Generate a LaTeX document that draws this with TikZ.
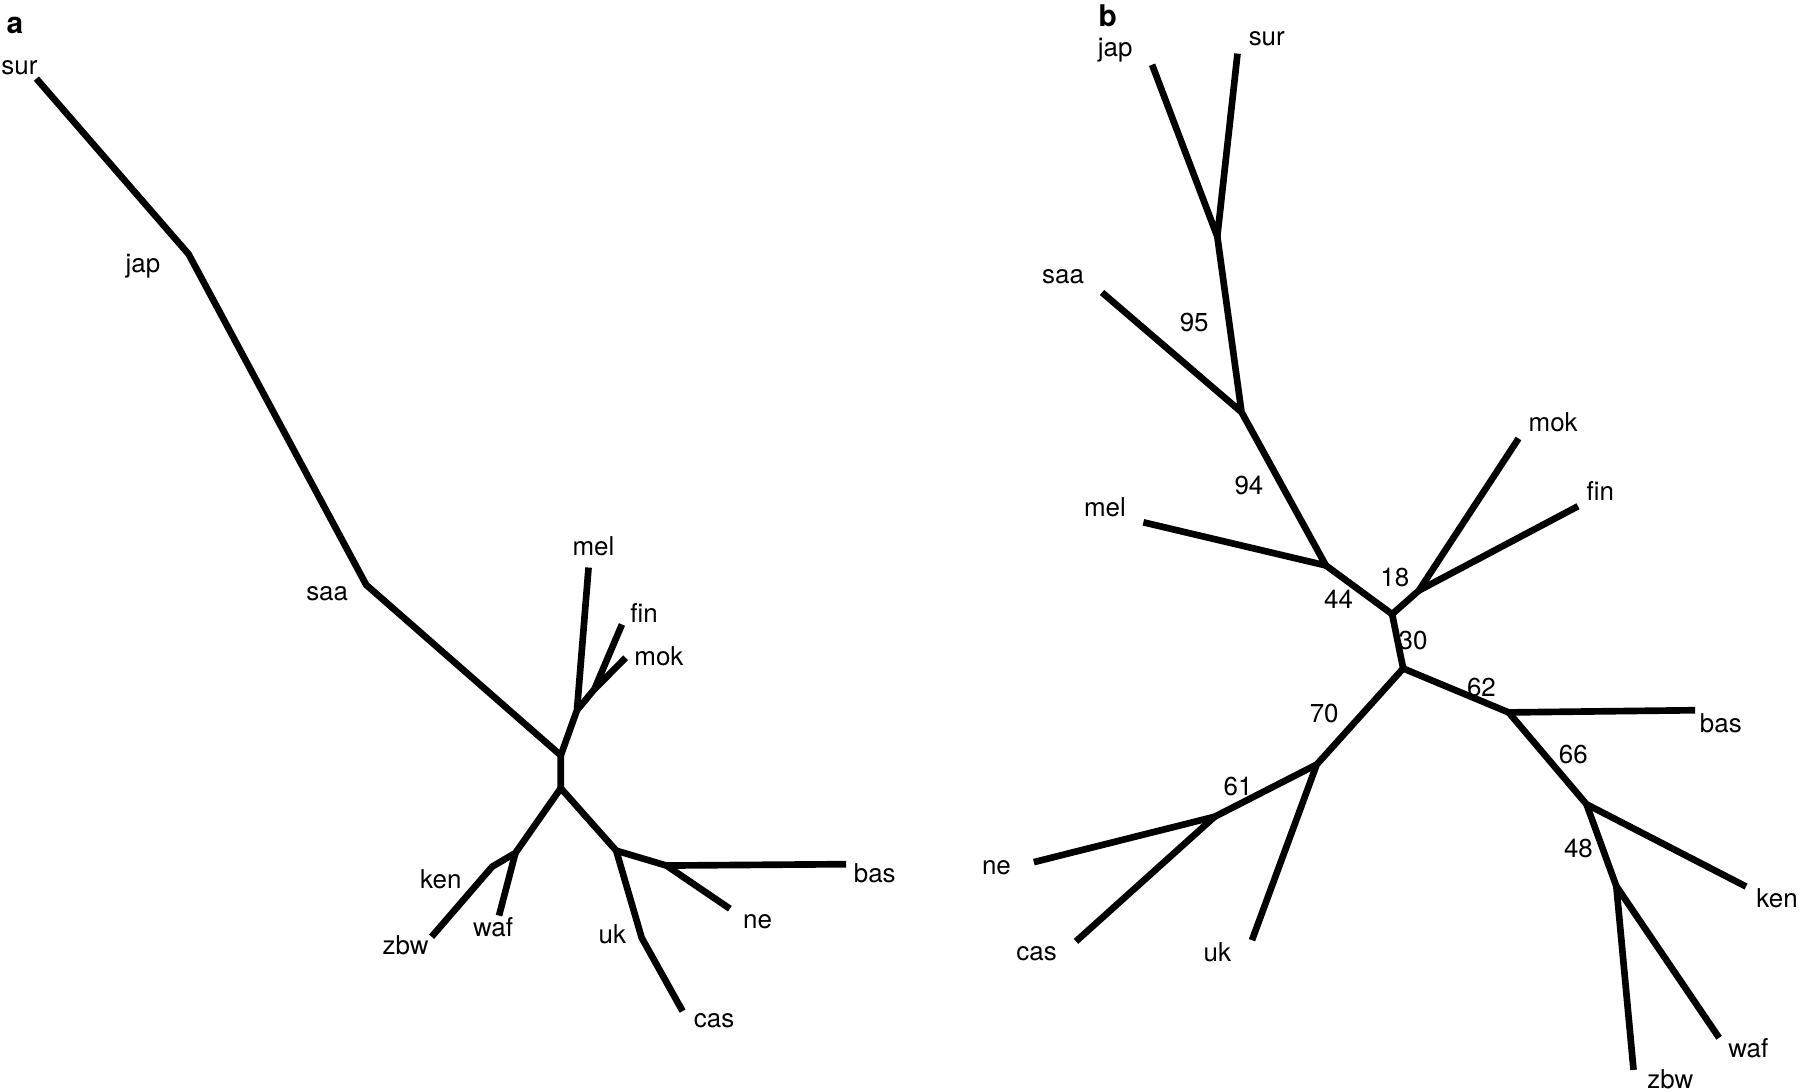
\documentclass[tikz,border=0pt]{standalone}
\usepackage{fontspec}
\setmainfont{TeX Gyre Heros}
\usepackage{tikz}

\begin{document}
\begin{tikzpicture}[x=0.5pt, y=-0.5pt, line join=round,
  branch/.style={line width=2.9pt, black},
  taxon/.style={font=\fontsize{11.3}{13}\selectfont, inner sep=0pt},
  boot/.style={font=\fontsize{11.3}{13}\selectfont, inner sep=0pt},
  panel/.style={font=\fontsize{13}{15}\selectfont\bfseries, inner sep=0pt}]
\useasboundingbox (0,0) rectangle (1568,951);
% panel a
\node[panel] (pa) at (13, 22) {a};
\coordinate (a-sur) at (31.7, 68.5);
\coordinate (a-jap) at (164.3, 221.4);
\coordinate (a-saa) at (319, 509.5);
\coordinate (a-r1) at (488.5, 658);
\coordinate (a-r2) at (488.5, 686.6);
\coordinate (a-melj) at (502.6, 618.7);
\coordinate (a-mel) at (512.7, 494.4);
\coordinate (a-finj) at (517.7, 600.5);
\coordinate (a-fin) at (541.8, 544);
\coordinate (a-mok) at (545, 573);
\coordinate (a-wafj) at (449, 743);
\coordinate (a-ken) at (428.7, 755);
\coordinate (a-zbw) at (376, 816);
\coordinate (a-waf) at (434.7, 797.6);
\coordinate (a-ukj) at (536.8, 741);
\coordinate (a-nej) at (580.5, 754);
\coordinate (a-bas) at (737, 752.8);
\coordinate (a-ne) at (635.8, 791.6);
\coordinate (a-uk) at (559, 817);
\coordinate (a-cas) at (594.6, 880.8);
\draw[branch] (a-sur) -- (a-jap) -- (a-saa) -- (a-r1) -- (a-r2);
\draw[branch] (a-r1) -- (a-melj) -- (a-mel);
\draw[branch] (a-melj) -- (a-finj) -- (a-fin);
\draw[branch] (a-finj) -- (a-mok);
\draw[branch] (a-r2) -- (a-wafj) -- (a-ken) -- (a-zbw);
\draw[branch] (a-wafj) -- (a-waf);
\draw[branch] (a-r2) -- (a-ukj) -- (a-nej) -- (a-bas);
\draw[branch] (a-nej) -- (a-ne);
\draw[branch] (a-ukj) -- (a-uk) -- (a-cas);
\node[taxon] (la-sur) at (17, 58.8) {sur};
\node[taxon] (la-jap) at (124.6, 231.7) {jap};
\node[taxon] (la-saa) at (285, 516.8) {saa};
\node[taxon] (la-mel) at (517, 476) {mel};
\node[taxon] (la-fin) at (561, 533.8) {fin};
\node[taxon] (la-mok) at (574, 571.4) {mok};
\node[taxon] (la-ken) at (384, 766) {ken};
\node[taxon] (la-zbw) at (353.3, 823.8) {zbw};
\node[taxon] (la-waf) at (429.5, 808) {waf};
\node[taxon] (la-uk) at (533.5, 814) {uk};
\node[taxon] (la-ne) at (660, 802.5) {ne};
\node[taxon] (la-bas) at (762, 761) {bas};
\node[taxon] (la-cas) at (622, 889) {cas};
% panel b
\node[panel] (pb) at (965, 13.5) {b};
\coordinate (b-jap) at (1003.6, 56.4);
\coordinate (b-sur) at (1078, 46.7);
\coordinate (b-surj) at (1060.4, 206);
\coordinate (b-saa) at (960, 254.8);
\coordinate (b-saaj) at (1081.5, 359);
\coordinate (b-mel) at (996, 455);
\coordinate (b-melj) at (1155, 492.6);
\coordinate (b-r1) at (1212.7, 535);
\coordinate (b-finj) at (1236, 514.4);
\coordinate (b-mok) at (1322.8, 382);
\coordinate (b-fin) at (1374.6, 441);
\coordinate (b-r2) at (1222.3, 582.3);
\coordinate (b-basj) at (1314.2, 620.6);
\coordinate (b-bas) at (1476.6, 618.7);
\coordinate (b-kenj) at (1382, 700.6);
\coordinate (b-ken) at (1521, 772.3);
\coordinate (b-wafj) at (1408, 772);
\coordinate (b-zbw) at (1423, 932);
\coordinate (b-waf) at (1497.5, 904);
\coordinate (b-ukj) at (1147, 666);
\coordinate (b-uk) at (1090.6, 819);
\coordinate (b-nej) at (1058, 711.5);
\coordinate (b-ne) at (900.6, 751);
\coordinate (b-cas) at (937.3, 820);
\draw[branch] (b-jap) -- (b-surj) -- (b-sur);
\draw[branch] (b-surj) -- (b-saaj) -- (b-saa);
\draw[branch] (b-saaj) -- (b-melj) -- (b-mel);
\draw[branch] (b-melj) -- (b-r1) -- (b-finj) -- (b-mok);
\draw[branch] (b-finj) -- (b-fin);
\draw[branch] (b-r1) -- (b-r2) -- (b-basj) -- (b-bas);
\draw[branch] (b-basj) -- (b-kenj) -- (b-ken);
\draw[branch] (b-kenj) -- (b-wafj) -- (b-zbw);
\draw[branch] (b-wafj) -- (b-waf);
\draw[branch] (b-r2) -- (b-ukj) -- (b-uk);
\draw[branch] (b-ukj) -- (b-nej) -- (b-ne);
\draw[branch] (b-nej) -- (b-cas);
\node[taxon] (lb-jap) at (971.5, 43.7) {jap};
\node[taxon] (lb-sur) at (1103.5, 33.4) {sur};
\node[taxon] (lb-saa) at (926, 241.4) {saa};
\node[taxon] (lb-mel) at (962.5, 441.6) {mel};
\node[taxon] (lb-mok) at (1353, 368.2) {mok};
\node[taxon] (lb-fin) at (1394, 427.6) {fin};
\node[taxon] (lb-bas) at (1499, 629.7) {bas};
\node[taxon] (lb-ken) at (1548, 782.5) {ken};
\node[taxon] (lb-waf) at (1523, 913) {waf};
\node[taxon] (lb-zbw) at (1455, 940) {zbw};
\node[taxon] (lb-uk) at (1060.5, 829.8) {uk};
\node[taxon] (lb-ne) at (868, 755.8) {ne};
\node[taxon] (lb-cas) at (903, 831) {cas};
\node[boot] (s95) at (1040.3, 281) {95};
\node[boot] (s94) at (1088, 422.8) {94};
\node[boot] (s44) at (1166, 521.7) {44};
\node[boot] (s18) at (1215, 503.5) {18};
\node[boot] (s30) at (1231, 558) {30};
\node[boot] (s62) at (1290.5, 598.7) {62};
\node[boot] (s70) at (1153.5, 621.8) {70};
\node[boot] (s66) at (1370.5, 657) {66};
\node[boot] (s61) at (1078.5, 685.5) {61};
\node[boot] (s48) at (1375, 738.8) {48};
\end{tikzpicture}
\end{document}
